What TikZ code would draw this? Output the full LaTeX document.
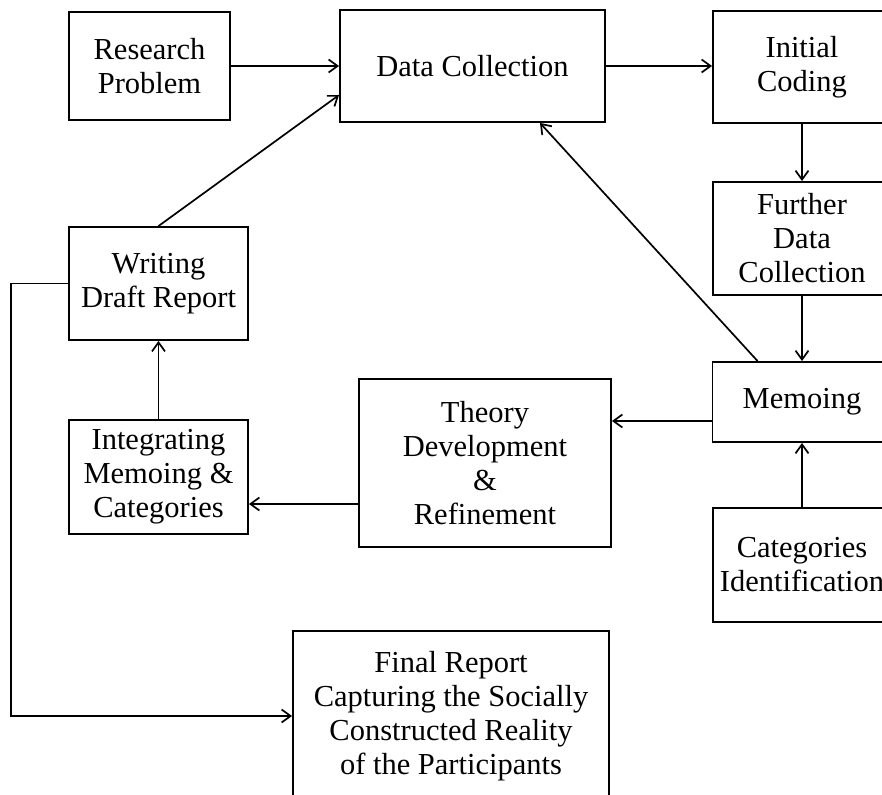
\documentclass[tikz,border=0pt]{standalone}
\usepackage{fontspec}
\setmainfont{Liberation Serif}
\usetikzlibrary{arrows.meta,calc}

\tikzset{
  stage/.style={draw, line width=1.9pt, align=center, inner sep=0pt,
    font=\fontsize{30.5}{34}\selectfont},
  flow/.style={line width=1.7pt, -{Straight Barb[length=9pt,width=13pt]}}
}

\begin{document}
\begin{tikzpicture}[x=1pt,y=-1pt]
    \useasboundingbox (0,0) rectangle (882,794);
    \clip (0,0) rectangle (882,794);

    % top row
    \node[stage, minimum width=161pt, minimum height=108pt] (research) at (149.5,66) {Research\\Problem};
    \node[stage, minimum width=265pt, minimum height=112pt] (collect) at (472.5,66) {Data Collection};
    \node[stage, minimum width=178pt, minimum height=112pt] (initial) at (802,67) {Initial\\Coding};

    % right column
    \node[stage, minimum width=178pt, minimum height=113pt] (further) at (802,238.5) {Further\\Data\\Collection};
    \node[stage, minimum width=179pt, minimum height=80pt] (memo) at (802,402) {Memoing};
    \node[stage, minimum width=178pt, minimum height=114pt] (catid) at (802,565) {Categories\\Identification};

    % middle and left
    \node[stage, minimum width=252pt, minimum height=168pt] (theory) at (485,463) {Theory\\Development\\\&\\Refinement};
    \node[stage, minimum width=179pt, minimum height=114pt] (integ) at (158.5,477) {Integrating\\Memoing \&\\Categories};
    \node[stage, minimum width=179pt, minimum height=113pt] (writing) at (158.5,283.5) {Writing\\Draft Report};
    \node[stage, minimum width=316pt, minimum height=170pt] (final) at (451,716) {Final Report\\Capturing the Socially\\Constructed Reality\\of the Participants};

    % connectors
    \draw[flow] (research.east) -- (collect.west |- research.east);
    \draw[flow] (writing.north) -- ($(collect.west)+(0,29)$);
    \draw[flow] (collect.east) -- (initial.west |- collect.east);
    \draw[flow] (initial) -- (further);
    \draw[flow] (further) -- (memo);
    \draw[flow] ($(memo.north west)+(46,0)$) -- ($(collect.south)+(67.5,0)$);
    \draw[flow] ($(memo.west)+(0,19)$) coordinate (m1) -- (m1 -| theory.east);
    \draw[flow] (catid) -- (memo);
    \draw[flow] ($(theory.west)+(0,41)$) coordinate (t1) -- (t1 -| integ.east);
    \draw[flow] (integ) -- (writing);
    \draw[flow] (writing.west) -- ++(-57,0) |- (final.west);
\end{tikzpicture}
\end{document}
